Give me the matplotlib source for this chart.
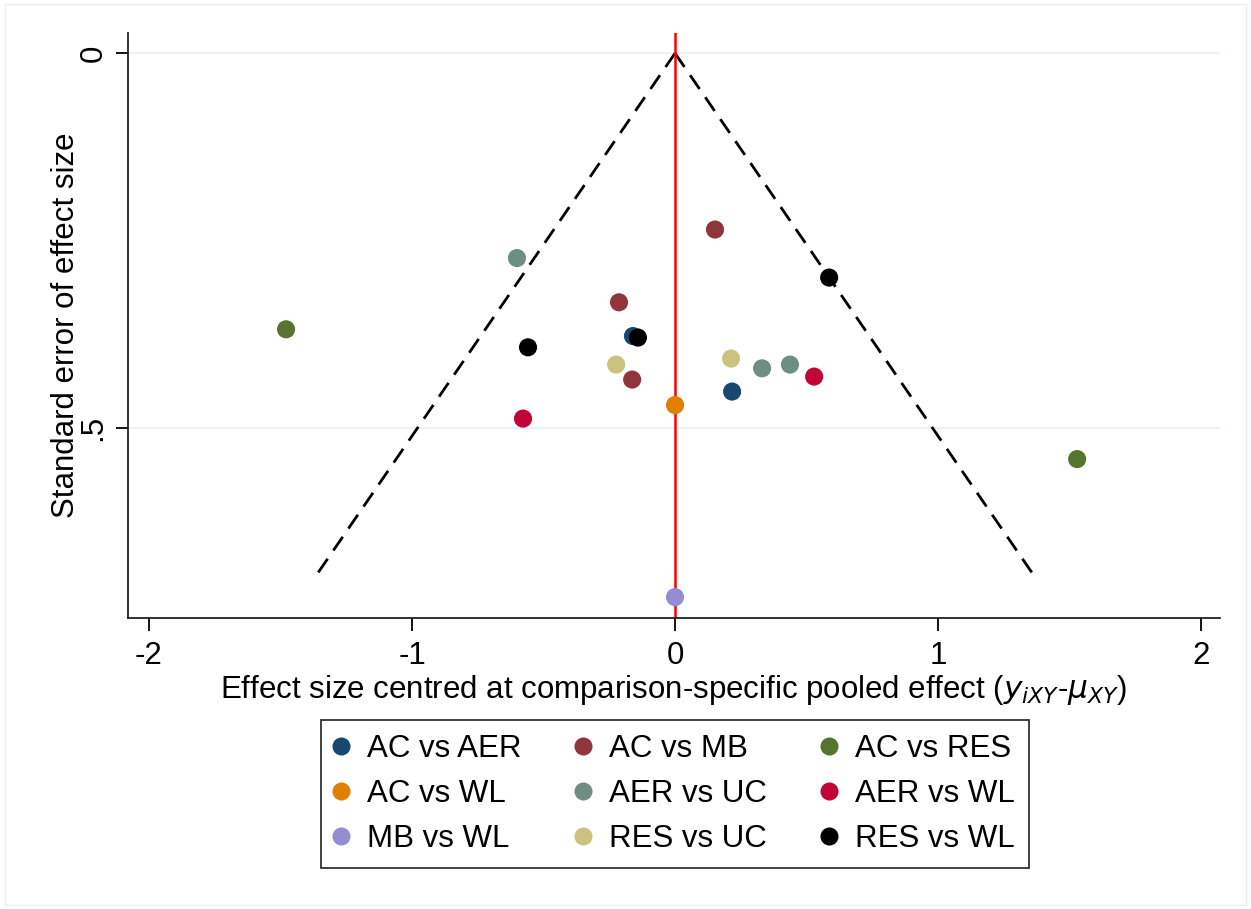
import matplotlib
matplotlib.use('Agg')
import matplotlib.pyplot as plt
from matplotlib.lines import Line2D
import numpy as np

# comparison groups and Stata s2color palette
groups = ['AC vs AER', 'AC vs MB', 'AC vs RES',
          'AC vs WL', 'AER vs UC', 'AER vs WL',
          'MB vs WL', 'RES vs UC', 'RES vs WL']
colors = ['#1a476f', '#90353b', '#55752f',
          '#e37e00', '#6e8e84', '#c10534',
          '#938dd2', '#cac27e', '#000000']

# centred effect sizes (x) and standard errors (y) per group
effects = {
    'AC vs AER': [-0.160, 0.217],
    'AC vs MB': [0.152, -0.213, -0.163],
    'AC vs RES': [-1.479, 1.529],
    'AC vs WL': [0.0],
    'AER vs UC': [-0.601, 0.331, 0.437],
    'AER vs WL': [-0.578, 0.529],
    'MB vs WL': [0.0],
    'RES vs UC': [-0.224, 0.213],
    'RES vs WL': [-0.559, -0.141, 0.586],
}
std_errors = {
    'AC vs AER': [0.377, 0.451],
    'AC vs MB': [0.235, 0.332, 0.435],
    'AC vs RES': [0.368, 0.541],
    'AC vs WL': [0.469],
    'AER vs UC': [0.273, 0.420, 0.415],
    'AER vs WL': [0.487, 0.431],
    'MB vs WL': [0.725],
    'RES vs UC': [0.415, 0.407],
    'RES vs WL': [0.392, 0.379, 0.299],
}
se_max = 0.70

plt.rcParams['font.family'] = ['Liberation Sans', 'DejaVu Sans']
fs = 22.5

fig = plt.figure(figsize=(12.51, 9.09), dpi=100)
ax = fig.add_axes([0.1023, 0.320, 0.8729, 0.6437])

ax.set_xlim(-2.08, 2.072)
ax.set_ylim(0.753, -0.027)

# grid lines
for yv in [0, 0.5]:
    ax.axhline(yv, color='#eaf2f3', lw=1.5, zorder=0)

# pseudo 95% CI funnel
se_line = np.array([0, se_max])
ax.plot(-1.96 * se_line, se_line, color='black', ls=(0, (6, 3.6)), lw=2.0, zorder=2)
ax.plot(1.96 * se_line, se_line, color='black', ls=(0, (6, 3.6)), lw=2.0, zorder=2)
ax.axvline(0, color='#ff0000', lw=1.8, zorder=2)

for g, c in zip(groups, colors):
    ax.scatter(effects[g], std_errors[g], s=170, color=c, edgecolors='none', zorder=3)

ax.set_xticks([-2, -1, 0, 1, 2])
ax.set_xticklabels(['-2', '-1', '0', '1', '2'])
ax.set_yticks([0, 0.5])
ax.set_yticklabels(['0', '.5'], rotation=90, va='center')
ax.tick_params(axis='both', length=9, width=1.3, labelsize=fs, colors='black')
ax.tick_params(axis='x', pad=7.5)
ax.tick_params(axis='y', pad=5)

for s in ['top', 'right']:
    ax.spines[s].set_visible(False)
for s in ['left', 'bottom']:
    ax.spines[s].set_linewidth(1.3)
    ax.spines[s].set_color('#222222')

ax.set_xlabel(r'Effect size centred at comparison-specific pooled effect ($\mathit{y_{iXY}}$-$\mathit{\mu_{XY}}$)',
              fontsize=fs, labelpad=1.5)
ax.set_ylabel('Standard error of effect size', fontsize=fs, labelpad=-2)

# legend filled row by row (matplotlib fills columns first)
order = [0, 3, 6, 1, 4, 7, 2, 5, 8]
handles = [Line2D([], [], ls='none', marker='o', markersize=13, color=colors[i], markeredgewidth=0)
           for i in order]
labels = [groups[i] for i in order]
leg = fig.legend(handles, labels, loc='center', bbox_to_anchor=(0.5396, 0.1265),
                 ncol=3, fontsize=fs, frameon=True, fancybox=False, edgecolor='black',
                 handletextpad=0.66, columnspacing=1.8, labelspacing=0.47,
                 borderpad=0.45, handlelength=0.35, borderaxespad=0)
leg.get_frame().set_linewidth(1.3)

# faint outer frame of the graph region
fig.patches.append(plt.Rectangle((0.004, 0.004), 0.992, 0.992, transform=fig.transFigure,
                                 fill=False, edgecolor='#eeeeee', lw=1))

fig.savefig('out.png', dpi=100)
